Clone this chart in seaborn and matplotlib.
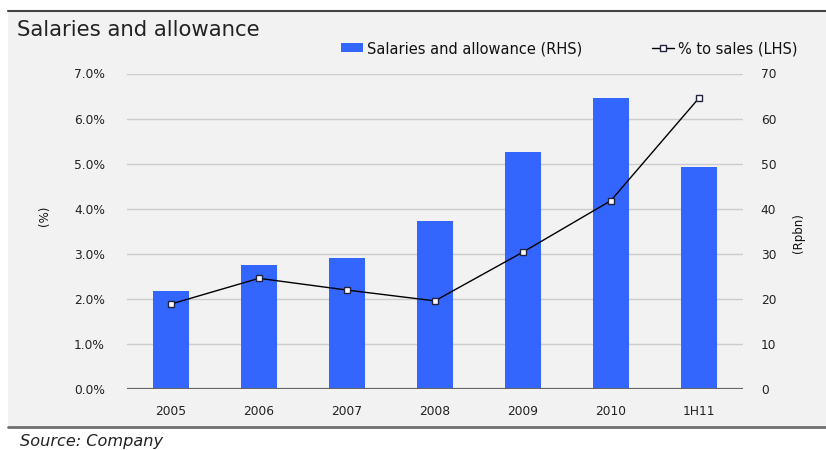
import matplotlib
matplotlib.use("Agg")
import matplotlib.pyplot as plt
import seaborn as sns
import pandas as pd
from matplotlib.patches import Rectangle, Patch
from matplotlib.lines import Line2D
from matplotlib.ticker import FuncFormatter, MultipleLocator

categories = ["2005", "2006", "2007", "2008", "2009", "2010", "1H11"]
salaries_rpbn = [21.8, 27.6, 29.0, 37.2, 52.5, 64.5, 49.2]
pct_to_sales = [1.89, 2.46, 2.20, 1.96, 3.04, 4.18, 6.45]

title = "Salaries and allowance"
bar_label = "Salaries and allowance (RHS)"
line_label = "% to sales (LHS)"
left_ylabel = "(%)"
right_ylabel = "(Rpbn)"
source = "Source: Company"

df = pd.DataFrame({"year": categories, "sal": salaries_rpbn, "pct": pct_to_sales})

sns.set_theme(style="white")
plt.rcParams["font.family"] = ["DejaVu Sans"]

W, H = 826, 450
fig = plt.figure(figsize=(W / 100, H / 100), dpi=100, facecolor="white")

# background panel
fig.patches.append(Rectangle((8 / W, 1 - 427 / H), 1 - 8 / W, (427 - 10) / H,
                             transform=fig.transFigure, facecolor="#f2f2f2",
                             edgecolor="none", zorder=-10))
fig.add_artist(Line2D([8 / W, 1], [1 - 10.5 / H, 1 - 10.5 / H], color="#444444", lw=1.5,
                      transform=fig.transFigure))
fig.add_artist(Line2D([8 / W, 1], [1 - 427 / H, 1 - 427 / H], color="#707070", lw=2,
                      transform=fig.transFigure))

left, right = 127 / W, 742.7 / W
bottom, top = 1 - 389.3 / H, 1 - 73.5 / H
ax = fig.add_axes([left, bottom, right - left, top - bottom])
ax2 = ax.twinx()

BLUE = "#3366ff"
sns.barplot(data=df, x="year", y="sal", ax=ax2, color=BLUE, width=0.41,
            saturation=1, edgecolor="none")
sns.pointplot(data=df, x="year", y="pct", ax=ax, color="black", markers="s",
              linestyles="-", markersize=4.5, linewidth=1.0,
              markerfacecolor="white", markeredgecolor="#222244",
              markeredgewidth=1.0)

ax.set_zorder(ax2.get_zorder() + 1)
ax.patch.set_visible(False)
ax2.patch.set_visible(False)

ax.set_ylim(0, 7.0)
ax2.set_ylim(0, 70)
ax.set_xlim(-0.5, 6.5)
ax.yaxis.set_major_locator(MultipleLocator(1.0))
ax2.yaxis.set_major_locator(MultipleLocator(10))
ax.yaxis.set_major_formatter(FuncFormatter(lambda v, p: f"{v:.1f}%"))

ax2.grid(axis="y", color="#cccccc", lw=1.0)
ax2.set_axisbelow(True)
ax.grid(False)

for a in (ax, ax2):
    for s in a.spines.values():
        s.set_visible(False)
ax2.axhline(0, color="#666666", lw=1.6, zorder=5)

ax.tick_params(axis="y", length=0, pad=16, labelsize=8.8, labelcolor="#222222")
ax2.tick_params(axis="y", length=0, pad=13, labelsize=8.8, labelcolor="#222222")
ax.tick_params(axis="x", length=0, pad=11, labelsize=8.8, labelcolor="#222222")
ax2.tick_params(axis="x", length=0)

ax.set_xlabel("")
ax.set_ylabel("")
ax2.set_ylabel("")
ax2.set_xlabel("")

fig.text(45 / W, 1 - 216 / H, left_ylabel, rotation=90, ha="center", va="center",
         fontsize=8.5, color="#111111")
fig.text(798 / W, 1 - 233 / H, right_ylabel, rotation=90, ha="center", va="center",
         fontsize=8.5, color="#111111")

fig.text(17 / W, 1 - 36.5 / H, title, ha="left", va="baseline", fontsize=15.3,
         color="#222222")
fig.text(20 / W, 1 - 446 / H, source, ha="left", va="baseline", fontsize=11.6,
         style="italic", color="#222222")

handles = [Patch(facecolor=BLUE, edgecolor="none"),
           Line2D([], [], color="black", lw=1.0, marker="s", markersize=4.5,
                  markerfacecolor="white", markeredgecolor="#222244")]
fig.legend(handles, [bar_label, line_label], loc="center right",
           bbox_to_anchor=(811 / W, 1 - 48.5 / H), ncol=2, frameon=False,
           fontsize=10.5, handlelength=1.5, handleheight=0.6, handletextpad=0.3,
           columnspacing=4.8, labelcolor="#111111")

fig.savefig("out.png", dpi=100, facecolor="white")
